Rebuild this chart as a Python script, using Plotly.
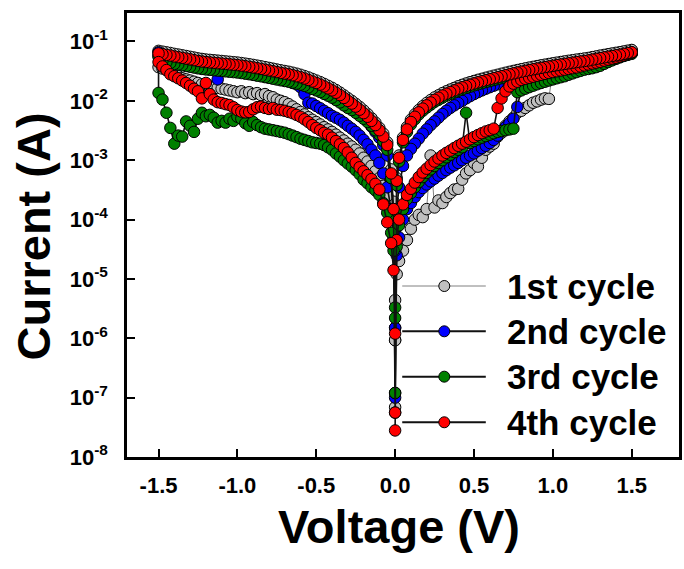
import plotly.graph_objects as go

# Voltage steps (V) shared by every branch of a sweep; negative branches use the same magnitudes.
V_STEPS = [
    0.0, 0.01, 0.025, 0.05, 0.075, 0.1, 0.125, 0.15, 0.175, 0.2,
    0.225, 0.25, 0.275, 0.3, 0.325, 0.35, 0.375, 0.4, 0.425, 0.45,
    0.475, 0.5, 0.525, 0.55, 0.575, 0.6, 0.625, 0.65, 0.675, 0.7,
    0.725, 0.75, 0.775, 0.8, 0.825, 0.85, 0.875, 0.9, 0.925, 0.95,
    0.975, 1.0, 1.025, 1.05, 1.075, 1.1, 1.125, 1.15, 1.175, 1.2,
    1.225, 1.25, 1.275, 1.3, 1.325, 1.35, 1.375, 1.4, 1.425, 1.45,
    1.475, 1.5]

# ---- 1st cycle currents (A) ----
C1_POS_UP = [
    4.4e-6, 1.2e-5, 2.0e-5, 3.0e-5, 4.5e-5, 7.0e-5, 1.0e-4, 1.2e-4, 1.1e-4, 1.5e-4,
    1.2e-3, 1.6e-4, 2.1e-4, 1.9e-4, 2.4e-4, 2.8e-4, 3.2e-4, 3.3e-4, 4.7e-4, 6.0e-4,
    6.8e-4, 9.0e-4, 7.8e-4, 1.1e-3, 1.5e-3, 1.7e-3, 1.9e-3, 2.5e-3, 2.9e-3, 3.8e-3,
    4.5e-3, 5.2e-3, 6.3e-3, 6.8e-3, 7.6e-3, 8.4e-3, 9.3e-3, 9.8e-3, 1.05e-2, 1.1e-2,
    1.08e-2, 3.5e-2, 3.7e-2, 3.85e-2, 4.0e-2, 4.15e-2, 4.3e-2, 4.45e-2, 4.6e-2, 4.75e-2,
    4.9e-2, 5.05e-2, 5.2e-2, 5.35e-2, 5.5e-2, 5.7e-2, 5.9e-2, 6.1e-2, 6.3e-2, 6.5e-2,
    6.8e-2, 7.1e-2]
C1_POS_DOWN = [
    9.3e-7, 5.0e-4, 1.2e-3, 2.4e-3, 3.6e-3, 4.8e-3, 5.9e-3, 7.0e-3, 8.1e-3, 9.2e-3,
    1.03e-2, 1.14e-2, 1.24e-2, 1.35e-2, 1.45e-2, 1.55e-2, 1.65e-2, 1.76e-2, 1.86e-2, 1.96e-2,
    2.06e-2, 2.16e-2, 2.26e-2, 2.35e-2, 2.45e-2, 2.55e-2, 2.65e-2, 2.75e-2, 2.86e-2, 2.97e-2,
    3.08e-2, 3.19e-2, 3.3e-2, 3.41e-2, 3.52e-2, 3.63e-2, 3.74e-2, 3.85e-2, 3.96e-2, 4.07e-2,
    4.18e-2, 4.29e-2, 4.4e-2, 4.51e-2, 4.62e-2, 4.73e-2, 4.84e-2, 4.95e-2, 5.06e-2, 5.17e-2,
    5.28e-2, 5.45e-2, 5.6e-2, 5.78e-2, 5.94e-2, 6.1e-2, 6.27e-2, 6.44e-2, 6.6e-2, 6.8e-2,
    7.0e-2, 7.2e-2]
C1_NEG_OUT = [
    9.3e-7, 2.0e-4, 7.0e-4, 2.0e-3, 2.8e-3, 3.5e-3, 4.3e-3, 5.1e-3, 6.0e-3, 6.9e-3,
    7.9e-3, 8.9e-3, 1.0e-2, 1.11e-2, 1.24e-2, 1.38e-2, 1.52e-2, 1.66e-2, 1.79e-2, 1.93e-2,
    2.07e-2, 2.2e-2, 2.34e-2, 2.48e-2, 2.62e-2, 2.75e-2, 2.87e-2, 2.98e-2, 3.09e-2, 3.18e-2,
    3.27e-2, 3.37e-2, 3.48e-2, 3.59e-2, 3.7e-2, 3.81e-2, 3.92e-2, 4.03e-2, 4.14e-2, 4.23e-2,
    4.33e-2, 4.42e-2, 4.48e-2, 4.55e-2, 4.62e-2, 4.69e-2, 4.76e-2, 4.83e-2, 4.9e-2, 4.97e-2,
    5.08e-2, 5.19e-2, 5.36e-2, 5.52e-2, 5.69e-2, 5.85e-2, 6.02e-2, 6.18e-2, 6.4e-2, 6.57e-2,
    6.74e-2, 6.95e-2]
C1_NEG_BACK = [
    6.9e-8, 5.0e-5, 1.2e-4, 2.5e-4, 3.7e-4, 5.0e-4, 6.5e-4, 8.0e-4, 9.5e-4, 1.1e-3,
    1.3e-3, 1.5e-3, 1.7e-3, 1.9e-3, 2.15e-3, 2.4e-3, 2.7e-3, 3.0e-3, 3.3e-3, 3.6e-3,
    4.0e-3, 4.4e-3, 4.8e-3, 5.3e-3, 5.9e-3, 6.5e-3, 7.2e-3, 8.0e-3, 8.8e-3, 9.5e-3,
    1.0e-2, 1.05e-2, 1.15e-2, 1.2e-2, 1.3e-2, 1.25e-2, 1.35e-2, 1.3e-2, 1.4e-2, 1.35e-2,
    1.45e-2, 1.4e-2, 1.45e-2, 1.5e-2, 1.55e-2, 1.6e-2, 1.65e-2, 1.7e-2, 1.75e-2, 1.8e-2,
    1.9e-2, 2.0e-2, 2.1e-2, 2.2e-2, 2.3e-2, 2.4e-2, 2.6e-2, 2.8e-2, 3.0e-2, 3.3e-2,
    3.5e-2, 3.7e-2]

# ---- 2nd cycle currents (A) ----
C2_POS_UP = [
    1.0e-7, 2.5e-5, 5.0e-5, 1.0e-4, 1.5e-4, 1.9e-4, 2.4e-4, 2.9e-4, 3.4e-4, 3.9e-4,
    4.4e-4, 4.9e-4, 5.5e-4, 6.1e-4, 6.8e-4, 7.5e-4, 8.2e-4, 9.0e-4, 1.0e-3, 1.1e-3,
    1.2e-3, 1.3e-3, 1.45e-3, 1.6e-3, 1.75e-3, 1.95e-3, 2.2e-3, 2.6e-3, 3.1e-3, 3.6e-3,
    4.2e-3, 5.0e-3, 7.9e-3, 1.6e-2, 2.3e-2, 2.55e-2, 2.7e-2, 2.85e-2, 3.0e-2, 3.1e-2,
    3.2e-2, 3.3e-2, 3.4e-2, 3.5e-2, 3.6e-2, 3.7e-2, 3.8e-2, 3.9e-2, 4.0e-2, 4.1e-2,
    4.2e-2, 4.35e-2, 4.5e-2, 4.65e-2, 4.8e-2, 5.0e-2, 5.2e-2, 5.4e-2, 5.6e-2, 5.85e-2,
    6.1e-2, 6.4e-2]
C2_POS_DOWN = [
    1.5e-6, 1.5e-4, 3.5e-4, 8.0e-4, 1.2e-3, 1.55e-3, 1.9e-3, 2.3e-3, 2.8e-3, 3.3e-3,
    3.9e-3, 4.5e-3, 5.2e-3, 6.0e-3, 6.8e-3, 7.6e-3, 8.4e-3, 9.2e-3, 1.0e-2, 1.1e-2,
    1.2e-2, 1.3e-2, 1.4e-2, 1.5e-2, 1.6e-2, 1.7e-2, 1.8e-2, 1.9e-2, 2.0e-2, 2.1e-2,
    2.2e-2, 2.35e-2, 2.5e-2, 2.65e-2, 2.8e-2, 2.95e-2, 3.1e-2, 3.25e-2, 3.4e-2, 3.5e-2,
    3.6e-2, 3.7e-2, 3.8e-2, 3.9e-2, 4.0e-2, 4.1e-2, 4.2e-2, 4.3e-2, 4.4e-2, 4.5e-2,
    4.6e-2, 4.75e-2, 4.9e-2, 5.05e-2, 5.2e-2, 5.35e-2, 5.5e-2, 5.65e-2, 5.8e-2, 6.0e-2,
    6.2e-2, 6.4e-2]
C2_NEG_OUT = [
    1.5e-6, 1.0e-4, 4.0e-4, 1.2e-3, 1.8e-3, 2.4e-3, 3.0e-3, 3.7e-3, 4.5e-3, 5.3e-3,
    6.2e-3, 7.1e-3, 8.1e-3, 9.2e-3, 1.03e-2, 1.15e-2, 1.26e-2, 1.38e-2, 1.49e-2, 1.61e-2,
    1.73e-2, 1.84e-2, 1.95e-2, 2.07e-2, 2.19e-2, 2.3e-2, 2.39e-2, 2.48e-2, 2.58e-2, 2.65e-2,
    2.72e-2, 2.81e-2, 2.9e-2, 2.99e-2, 3.08e-2, 3.17e-2, 3.27e-2, 3.36e-2, 3.45e-2, 3.52e-2,
    3.61e-2, 3.68e-2, 3.74e-2, 3.79e-2, 3.85e-2, 3.91e-2, 3.97e-2, 4.02e-2, 4.08e-2, 4.14e-2,
    4.23e-2, 4.32e-2, 4.46e-2, 4.6e-2, 4.74e-2, 4.88e-2, 5.01e-2, 5.15e-2, 5.4e-2, 5.7e-2,
    6.1e-2, 6.6e-2]
C2_NEG_BACK = [
    3.0e-5, 6.0e-5, 1.5e-4, 3.5e-4, 6.0e-4, 9.0e-4, 1.2e-3, 1.5e-3, 1.85e-3, 2.2e-3,
    2.6e-3, 3.0e-3, 3.4e-3, 3.8e-3, 4.3e-3, 4.8e-3, 5.2e-3, 5.6e-3, 6.2e-3, 6.8e-3,
    7.5e-3, 8.2e-3, 9.0e-3, 9.3e-3, 1.3e-2, 1.7e-2, 1.9e-2, 2.0e-2, 2.15e-2, 2.25e-2,
    2.35e-2, 2.45e-2, 2.55e-2, 2.65e-2, 2.75e-2, 2.85e-2, 2.95e-2, 3.05e-2, 3.15e-2, 3.2e-2,
    3.3e-2, 3.35e-2, 3.4e-2, 3.45e-2, 3.5e-2, 3.55e-2, 2.3e-2, 3.6e-2, 3.65e-2, 3.7e-2,
    3.8e-2, 3.9e-2, 4.0e-2, 4.15e-2, 4.3e-2, 4.45e-2, 4.6e-2, 4.75e-2, 4.9e-2, 5.1e-2,
    5.4e-2, 5.8e-2]

# ---- 3rd cycle currents (A) ----
C3_POS_UP = [
    3.3e-6, 3.5e-5, 8.0e-5, 1.5e-4, 2.2e-4, 2.8e-4, 3.5e-4, 4.3e-4, 5.2e-4, 6.1e-4,
    7.0e-4, 8.0e-4, 9.0e-4, 1.0e-3, 1.12e-3, 1.24e-3, 1.37e-3, 1.5e-3, 1.65e-3, 6.3e-3,
    1.95e-3, 2.1e-3, 2.25e-3, 2.4e-3, 2.55e-3, 2.7e-3, 2.85e-3, 3.0e-3, 3.1e-3, 3.2e-3,
    3.3e-3, 3.4e-3, 1.4e-2, 1.5e-2, 1.6e-2, 1.7e-2, 1.8e-2, 1.9e-2, 2.0e-2, 2.1e-2,
    2.2e-2, 2.3e-2, 2.4e-2, 2.5e-2, 2.6e-2, 2.75e-2, 2.9e-2, 3.05e-2, 3.2e-2, 3.35e-2,
    3.45e-2, 3.55e-2, 3.7e-2, 3.9e-2, 4.2e-2, 4.5e-2, 4.8e-2, 5.1e-2, 5.4e-2, 5.7e-2,
    6.1e-2, 6.5e-2]
C3_POS_DOWN = [
    1.2e-7, 3.8e-4, 9.5e-4, 2.0e-3, 3.0e-3, 4.0e-3, 4.9e-3, 5.9e-3, 6.8e-3, 7.7e-3,
    8.6e-3, 9.6e-3, 1.04e-2, 1.13e-2, 1.22e-2, 1.3e-2, 1.39e-2, 1.48e-2, 1.56e-2, 1.65e-2,
    1.73e-2, 1.82e-2, 1.9e-2, 1.98e-2, 2.07e-2, 2.15e-2, 2.24e-2, 2.32e-2, 2.41e-2, 2.5e-2,
    2.6e-2, 2.69e-2, 2.78e-2, 2.88e-2, 2.97e-2, 3.06e-2, 3.16e-2, 3.25e-2, 3.34e-2, 3.44e-2,
    3.53e-2, 3.62e-2, 3.72e-2, 3.81e-2, 3.9e-2, 4.0e-2, 4.09e-2, 4.18e-2, 4.27e-2, 4.37e-2,
    4.46e-2, 4.6e-2, 4.74e-2, 4.88e-2, 5.02e-2, 5.16e-2, 5.3e-2, 5.44e-2, 5.58e-2, 5.77e-2,
    5.95e-2, 6.2e-2]
C3_NEG_OUT = [
    1.2e-7, 1.2e-4, 5.0e-4, 1.5e-3, 2.1e-3, 2.7e-3, 3.2e-3, 3.8e-3, 4.4e-3, 5.0e-3,
    5.6e-3, 6.3e-3, 7.0e-3, 7.6e-3, 8.4e-3, 9.4e-3, 1.03e-2, 1.13e-2, 1.22e-2, 1.31e-2,
    1.41e-2, 1.5e-2, 1.59e-2, 1.69e-2, 1.79e-2, 1.88e-2, 1.95e-2, 2.03e-2, 2.1e-2, 2.16e-2,
    2.22e-2, 2.29e-2, 2.36e-2, 2.44e-2, 2.51e-2, 2.59e-2, 2.66e-2, 2.74e-2, 2.81e-2, 2.87e-2,
    2.94e-2, 3.0e-2, 3.05e-2, 3.09e-2, 3.14e-2, 3.19e-2, 3.23e-2, 3.28e-2, 3.33e-2, 3.38e-2,
    3.45e-2, 3.53e-2, 3.64e-2, 3.75e-2, 3.86e-2, 3.98e-2, 4.1e-2, 4.2e-2, 4.35e-2, 4.5e-2,
    4.8e-2, 5.5e-2]
C3_NEG_BACK = [
    2.2e-6, 3.0e-5, 6.0e-5, 1.3e-4, 1.9e-4, 2.6e-4, 3.1e-4, 3.5e-4, 4.1e-4, 4.7e-4,
    5.8e-4, 6.8e-4, 7.8e-4, 8.8e-4, 1.0e-3, 1.15e-3, 1.3e-3, 1.5e-3, 1.65e-3, 1.8e-3,
    1.9e-3, 1.95e-3, 2.0e-3, 2.1e-3, 2.2e-3, 2.3e-3, 2.45e-3, 2.6e-3, 2.75e-3, 2.9e-3,
    3.0e-3, 3.1e-3, 3.2e-3, 3.3e-3, 3.4e-3, 3.6e-3, 3.9e-3, 4.4e-3, 3.8e-3, 4.2e-3,
    5.0e-3, 5.4e-3, 4.6e-3, 5.0e-3, 4.3e-3, 4.6e-3, 4.3e-3, 5.2e-3, 5.8e-3, 5.5e-3,
    6.3e-3, 5.0e-3, 3.0e-3, 3.8e-3, 4.5e-3, 2.5e-3, 2.6e-3, 1.9e-3, 3.5e-3, 6.3e-3,
    1.05e-2, 1.36e-2]

# ---- 4th cycle currents (A) ----
C4_POS_UP = [
    2.8e-8, 4.5e-5, 1.0e-4, 1.8e-4, 2.6e-4, 3.3e-4, 4.2e-4, 5.2e-4, 6.2e-4, 7.2e-4,
    8.3e-4, 9.5e-4, 1.07e-3, 1.2e-3, 1.33e-3, 1.45e-3, 1.6e-3, 1.75e-3, 1.9e-3, 2.05e-3,
    2.25e-3, 2.45e-3, 2.65e-3, 2.85e-3, 3.05e-3, 3.2e-3, 3.4e-3, 7.6e-3, 1.1e-2, 1.45e-2,
    1.75e-2, 1.95e-2, 2.1e-2, 2.25e-2, 2.35e-2, 2.45e-2, 2.55e-2, 2.65e-2, 2.75e-2, 2.85e-2,
    2.95e-2, 3.05e-2, 3.15e-2, 3.25e-2, 3.35e-2, 3.45e-2, 3.55e-2, 3.65e-2, 3.8e-2, 3.95e-2,
    4.1e-2, 4.25e-2, 4.4e-2, 4.55e-2, 4.75e-2, 4.95e-2, 5.15e-2, 5.35e-2, 5.6e-2, 5.85e-2,
    6.2e-2, 6.5e-2]
C4_POS_DOWN = [
    5.6e-8, 4.5e-4, 1.1e-3, 2.2e-3, 3.3e-3, 4.4e-3, 5.4e-3, 6.4e-3, 7.4e-3, 8.4e-3,
    9.4e-3, 1.04e-2, 1.13e-2, 1.23e-2, 1.32e-2, 1.41e-2, 1.5e-2, 1.6e-2, 1.69e-2, 1.78e-2,
    1.87e-2, 1.96e-2, 2.05e-2, 2.14e-2, 2.23e-2, 2.32e-2, 2.41e-2, 2.5e-2, 2.6e-2, 2.7e-2,
    2.8e-2, 2.9e-2, 3.0e-2, 3.1e-2, 3.2e-2, 3.3e-2, 3.4e-2, 3.5e-2, 3.6e-2, 3.7e-2,
    3.8e-2, 3.9e-2, 4.0e-2, 4.1e-2, 4.2e-2, 4.3e-2, 4.4e-2, 4.5e-2, 4.6e-2, 4.7e-2,
    4.8e-2, 4.95e-2, 5.1e-2, 5.25e-2, 5.4e-2, 5.55e-2, 5.7e-2, 5.85e-2, 6.0e-2, 6.2e-2,
    6.4e-2, 6.6e-2]
C4_NEG_OUT = [
    5.6e-8, 1.5e-4, 6.0e-4, 1.8e-3, 2.5e-3, 3.2e-3, 3.9e-3, 4.6e-3, 5.4e-3, 6.2e-3,
    7.1e-3, 8.0e-3, 9.0e-3, 1.0e-2, 1.12e-2, 1.25e-2, 1.37e-2, 1.5e-2, 1.62e-2, 1.75e-2,
    1.88e-2, 2.0e-2, 2.12e-2, 2.25e-2, 2.38e-2, 2.5e-2, 2.6e-2, 2.7e-2, 2.8e-2, 2.88e-2,
    2.96e-2, 3.05e-2, 3.15e-2, 3.25e-2, 3.35e-2, 3.45e-2, 3.55e-2, 3.65e-2, 3.75e-2, 3.83e-2,
    3.92e-2, 4.0e-2, 4.06e-2, 4.12e-2, 4.18e-2, 4.25e-2, 4.31e-2, 4.37e-2, 4.44e-2, 4.5e-2,
    4.6e-2, 4.7e-2, 4.85e-2, 5.0e-2, 5.15e-2, 5.3e-2, 5.45e-2, 5.6e-2, 5.8e-2, 5.95e-2,
    6.1e-2, 6.3e-2]
C4_NEG_BACK = [
    1.2e-6, 1.4e-5, 4.0e-5, 9.0e-5, 1.8e-4, 3.2e-4, 4.0e-4, 4.8e-4, 5.6e-4, 6.5e-4,
    7.6e-4, 9.0e-4, 1.1e-3, 1.35e-3, 1.6e-3, 1.85e-3, 2.1e-3, 2.4e-3, 2.7e-3, 2.9e-3,
    3.2e-3, 3.5e-3, 3.9e-3, 4.4e-3, 4.9e-3, 5.4e-3, 5.8e-3, 6.2e-3, 6.5e-3, 6.8e-3,
    7.0e-3, 7.1e-3, 7.6e-3, 7.3e-3, 7.6e-3, 8.0e-3, 7.8e-3, 7.2e-3, 6.5e-3, 6.4e-3,
    6.6e-3, 7.0e-3, 7.8e-3, 8.5e-3, 8.8e-3, 9.2e-3, 9.5e-3, 1.05e-2, 1.3e-2, 2.0e-2,
    1.1e-2, 1.45e-2, 1.6e-2, 1.8e-2, 2.0e-2, 2.2e-2, 2.4e-2, 2.6e-2, 2.8e-2, 3.3e-2,
    3.8e-2, 4.5e-2]

CYCLE_NAMES = ["1st cycle", "2nd cycle", "3rd cycle", "4th cycle"]
CYCLE_FILLS = ["#C0C0C0", "#0000FF", "#008000", "#FF0000"]
CYCLE_LINES = ["#808080", "#111111", "#111111", "#111111"]
CYCLE_LINE_WIDTHS = [1.0, 1.6, 1.6, 1.6]

X_TICKS = [-1.5, -1.0, -0.5, 0.0, 0.5, 1.0, 1.5]
X_TICK_LABELS = ["-1.5", "-1.0", "-0.5", "0.0", "0.5", "1.0", "1.5"]
Y_TICKS = [1e-8, 1e-7, 1e-6, 1e-5, 1e-4, 1e-3, 1e-2, 1e-1]
Y_TICK_LABELS = ["10<sup>-8</sup>", "10<sup>-7</sup>", "10<sup>-6</sup>", "10<sup>-5</sup>",
                 "10<sup>-4</sup>", "10<sup>-3</sup>", "10<sup>-2</sup>", "10<sup>-1</sup>"]

BRANCHES = [
    (C1_POS_UP, C1_POS_DOWN, C1_NEG_OUT, C1_NEG_BACK),
    (C2_POS_UP, C2_POS_DOWN, C2_NEG_OUT, C2_NEG_BACK),
    (C3_POS_UP, C3_POS_DOWN, C3_NEG_OUT, C3_NEG_BACK),
    (C4_POS_UP, C4_POS_DOWN, C4_NEG_OUT, C4_NEG_BACK),
]

V_NEG = [-v for v in V_STEPS]


def full_sweep(pos_up, pos_down, neg_out, neg_back):
    """0 -> +1.5 -> 0 -> -1.5 -> 0 in measurement order."""
    volts = V_STEPS + V_STEPS[::-1] + V_NEG + V_NEG[::-1]
    amps = pos_up + pos_down[::-1] + neg_out + neg_back[::-1]
    return volts, amps


fig = go.Figure()
for k, branches in enumerate(BRANCHES):
    v, i = full_sweep(*branches)
    fig.add_trace(go.Scatter(
        x=v, y=i, mode="lines+markers", name=CYCLE_NAMES[k],
        line=dict(color=CYCLE_LINES[k], width=CYCLE_LINE_WIDTHS[k]),
        marker=dict(size=11.5, color=CYCLE_FILLS[k], line=dict(color="black", width=1)),
    ))

FONT = "Liberation Sans, Arial, sans-serif"
axis_style = dict(
    showline=True, linecolor="black", linewidth=2.5, mirror=True,
    ticks="inside", ticklen=8, tickwidth=2, tickcolor="black",
    showgrid=False, zeroline=False,
    tickfont=dict(family=FONT, size=22, color="black", weight="bold"),
)

fig.update_layout(
    width=684, height=569,
    margin=dict(l=127, r=2, t=13, b=112),
    paper_bgcolor="white", plot_bgcolor="white",
    showlegend=False,
    font=dict(family=FONT, color="black"),
    xaxis=dict(range=[-1.70, 1.80], tickvals=X_TICKS, ticktext=X_TICK_LABELS,
               ticklabelstandoff=7, **axis_style),
    yaxis=dict(type="log", range=[-8, -0.52], tickvals=Y_TICKS, ticktext=Y_TICK_LABELS,
               ticklabelstandoff=12, **axis_style),
)

# Axis titles
fig.add_annotation(text="Voltage (V)", xref="paper", yref="paper", x=0.492, y=-0.157,
                   xanchor="center", yanchor="middle", showarrow=False,
                   font=dict(family=FONT, size=47, color="black", weight="bold"))
fig.add_annotation(text="Current (A)", xref="paper", yref="paper", x=-0.17, y=0.497,
                   xanchor="center", yanchor="middle", showarrow=False, textangle=-90,
                   font=dict(family=FONT, size=47, color="black", weight="bold"))

# Legend drawn inside the plot: a line segment with a marker, then the label
LEG_X0, LEG_X1, LEG_XM, LEG_XT = 0.4986, 0.650, 0.5748, 0.685
LEG_ROWS = [0.3851, 0.2831, 0.1809, 0.0782]
for k, row in enumerate(LEG_ROWS):
    fig.add_shape(type="line", xref="paper", yref="paper", x0=LEG_X0, x1=LEG_X1, y0=row, y1=row,
                  line=dict(color=CYCLE_LINES[k], width=1.0 if k == 0 else 2.0))
    fig.add_shape(type="circle", xref="paper", yref="paper",
                  xsizemode="pixel", ysizemode="pixel", xanchor=LEG_XM, yanchor=row,
                  x0=-5.5, x1=5.5, y0=-5.5, y1=5.5,
                  fillcolor=CYCLE_FILLS[k], line=dict(color="black", width=1))
    fig.add_annotation(text=CYCLE_NAMES[k], xref="paper", yref="paper", x=LEG_XT, y=row,
                       xanchor="left", yanchor="middle", showarrow=False,
                       font=dict(family=FONT, size=35, color="black", weight="bold"))

fig.write_html("out.html")
